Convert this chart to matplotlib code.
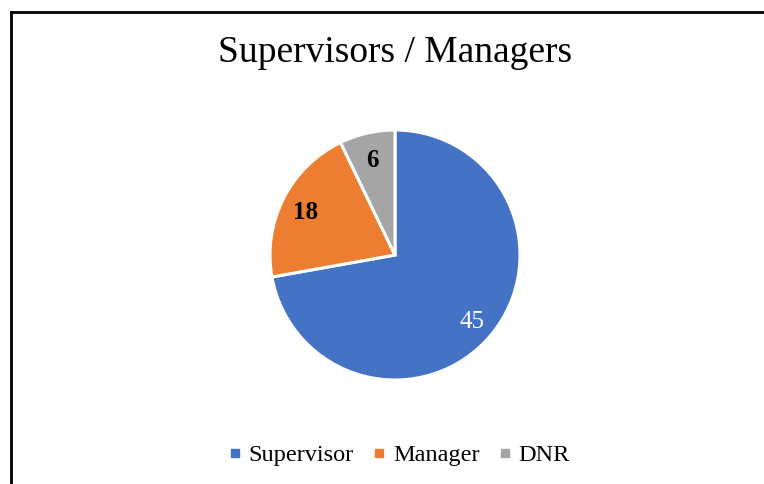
import matplotlib
matplotlib.use('Agg')
import matplotlib.pyplot as plt
from matplotlib.lines import Line2D
import numpy as np

categories = ['Supervisor', 'Manager', 'DNR']
counts = [45, 18, 6]                # printed data labels
slice_share = [72.4, 20.7, 7.2]     # slice sizes as drawn in the chart (%)
colors = ['#4472C4', '#ED7D31', '#A5A5A5']
label_colors = ['white', 'black', 'black']
label_weights = ['normal', 'bold', 'bold']
title = 'Supervisors / Managers'

plt.rcParams['font.family'] = ['Liberation Serif', 'DejaVu Serif']

W, H = 764, 484
fig = plt.figure(figsize=(W / 100, H / 100), dpi=100)

# frame: only top and left edges visible (chart box is cropped)
fig.add_artist(Line2D([10.5 / W, 1.0], [1 - 12 / H, 1 - 12 / H], color='black', lw=2.0))
fig.add_artist(Line2D([10.5 / W, 10.5 / W], [0.0, 1 - 12 / H], color='black', lw=2.0))

cx, cy, r = 395, 255, 125
ax = fig.add_axes([(cx - r) / W, 1 - (cy + r) / H, 2 * r / W, 2 * r / H])
wedges, _ = ax.pie(slice_share, colors=colors, startangle=90, counterclock=False,
                   radius=1.0, wedgeprops=dict(edgecolor='white', linewidth=2.2))
ax.set_xlim(-1, 1)
ax.set_ylim(-1, 1)
ax.set_aspect('equal')
ax.axis('off')

for w, n, c, fw in zip(wedges, counts, label_colors, label_weights):
    mid = np.deg2rad((w.theta1 + w.theta2) / 2)
    ax.text(0.8 * np.cos(mid), 0.8 * np.sin(mid) - 0.02, str(n), ha='center', va='center',
            fontsize=18, color=c, fontweight=fw)

fig.text(cx / W, 1 - 53 / H, title, ha='center', va='center', fontsize=27)

handles = [Line2D([], [], marker='s', linestyle='none', markersize=6,
                  markerfacecolor=col, markeredgecolor=col) for col in colors]
fig.legend(handles, categories, loc='center', bbox_to_anchor=(397 / W, 1 - 455 / H),
           ncol=3, frameon=False, fontsize=17.5, handletextpad=0.1, columnspacing=0.62,
           handlelength=0.9)

fig.savefig('out.png', dpi=100, facecolor='white')
